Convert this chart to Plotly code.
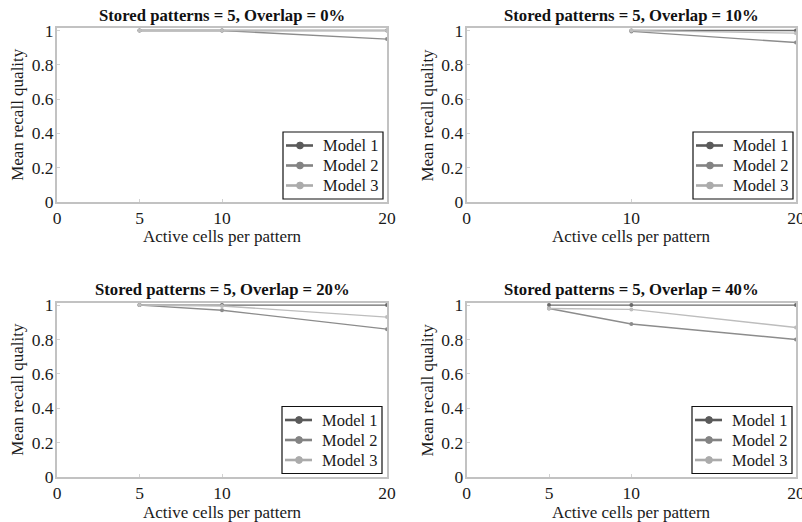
import plotly.graph_objects as go

# ---- data ----
panel_titles = ["Stored patterns = 5, Overlap = 0%", "Stored patterns = 5, Overlap = 10%",
                "Stored patterns = 5, Overlap = 20%", "Stored patterns = 5, Overlap = 40%"]
model_names = ["Model 1", "Model 2", "Model 3"]

x_p1 = [5, 10, 20]
m1_p1 = [1.0, 1.0, 1.0]
m2_p1 = [1.0, 1.0, 0.95]
m3_p1 = [1.0, 1.0, 1.0]

x_p2 = [10, 20]
m1_p2 = [1.0, 1.0]
m2_p2 = [0.995, 0.93]
m3_p2 = [1.0, 0.985]

x_p3 = [5, 10, 20]
m1_p3 = [1.0, 1.0, 1.0]
m2_p3 = [1.0, 0.97, 0.86]
m3_p3 = [1.0, 0.995, 0.93]

x_p4 = [5, 10, 20]
m1_p4 = [1.0, 1.0, 1.0]
m2_p4 = [0.98, 0.89, 0.80]
m3_p4 = [0.98, 0.975, 0.87]

xticks_p = [[0, 5, 10, 20], [0, 10, 20], [0, 5, 10, 20], [0, 5, 10, 20]]
yticks = [0, 0.2, 0.4, 0.6, 0.8, 1]
yticklabels = ["0", "0.2", "0.4", "0.6", "0.8", "1"]

panels = [
    (x_p1, [m1_p1, m2_p1, m3_p1]),
    (x_p2, [m1_p2, m2_p2, m3_p2]),
    (x_p3, [m1_p3, m2_p3, m3_p3]),
    (x_p4, [m1_p4, m2_p4, m3_p4]),
]

# ---- styling ----
W, H = 802, 522
FONT = "Liberation Serif, Times New Roman, serif"
legend_colors = ["#5a5a5a", "#838383", "#ababab"]
plot_colors = ["#6a6a6a", "#8c8c8c", "#bdbdbd"]

# pixel boxes (left, right, top, bottom)
boxes = [(57, 387, 28, 201.7), (466.7, 796, 28, 201.7),
         (57, 387, 302.5, 477), (466.7, 796, 302.5, 477)]
# legend boxes (right, bottom) in pixels
legend_pos = [(383, 199), (793, 199), (382, 473.5), (792, 473.5)]
LEG_W, LEG_H = 100, 67


def px(x):
    return x / W


def py(y):
    return 1 - y / H


fig = go.Figure()
layout = dict(width=W, height=H, margin=dict(l=0, r=0, t=0, b=0, autoexpand=False),
              paper_bgcolor="white", plot_bgcolor="white", showlegend=False,
              font=dict(family=FONT, size=16, color="#1a1a1a"))
annotations = []
shapes = []

for i, ((xs, ys), box) in enumerate(zip(panels, boxes)):
    k = i + 1
    xa = "x" if k == 1 else f"x{k}"
    ya = "y" if k == 1 else f"y{k}"
    L, R, T, B = box
    axis_common = dict(showgrid=False, zeroline=False, showline=True, linecolor="#c2c2c2",
                       linewidth=2, mirror=True, ticks="inside", ticklen=3,
                       tickcolor="#d2d2d2", automargin=False, ticklabeloverflow="allow",
                       tickfont=dict(family=FONT, size=17.5, color="#1a1a1a"))
    layout["xaxis" if k == 1 else f"xaxis{k}"] = dict(
        domain=[px(L), px(R)], anchor=ya, range=[0, 20],
        tickvals=xticks_p[i], ticktext=[str(v) for v in xticks_p[i]],
        ticklabelstandoff=-1, **axis_common)
    layout["yaxis" if k == 1 else f"yaxis{k}"] = dict(
        domain=[py(B), py(T)], anchor=xa, range=[0, 1.015],
        tickvals=yticks, ticktext=yticklabels, ticklabelstandoff=-2, **axis_common)
    for j in range(3):
        fig.add_trace(go.Scatter(
            x=xs, y=ys[j], mode="lines+markers", xaxis=xa, yaxis=ya,
            line=dict(color=plot_colors[j], width=1.4),
            marker=dict(color=plot_colors[j], size=4),
            showlegend=False, name=model_names[j]))

    # legend drawn as a framed box with sample lines, markers and labels
    lr, lb = legend_pos[i]
    ll, lt = lr - LEG_W, lb - LEG_H
    shapes.append(dict(type="rect", xref="paper", yref="paper",
                       x0=px(ll), x1=px(lr), y0=py(lb), y1=py(lt),
                       line=dict(color="#111111", width=1.2), fillcolor="white", layer="above"))
    for j in range(3):
        ry = lt + 13.5 + 20 * j
        shapes.append(dict(type="line", xref="paper", yref="paper",
                           x0=px(ll + 3), x1=px(ll + 30), y0=py(ry), y1=py(ry),
                           line=dict(color=legend_colors[j], width=2.6), layer="above"))
        r = 3.4
        cxm = ll + 17
        shapes.append(dict(type="circle", xref="paper", yref="paper",
                           x0=px(cxm - r), x1=px(cxm + r), y0=py(ry + r), y1=py(ry - r),
                           line=dict(color=legend_colors[j], width=1),
                           fillcolor=legend_colors[j], layer="above"))
        annotations.append(dict(text=model_names[j], x=px(ll + 38), y=py(ry),
                                xref="paper", yref="paper", showarrow=False,
                                xanchor="left", yanchor="middle",
                                font=dict(family=FONT, size=16.5, color="#1a1a1a")))

    cx = (L + R) / 2
    annotations.append(dict(text="<b>" + panel_titles[i] + "</b>", x=px(cx), y=py(T - 13),
                            xref="paper", yref="paper", showarrow=False,
                            xanchor="center", yanchor="middle",
                            font=dict(family=FONT, size=16.7, color="#111111")))
    annotations.append(dict(text="Active cells per pattern", x=px(cx), y=py(B + 35),
                            xref="paper", yref="paper", showarrow=False,
                            xanchor="center", yanchor="middle",
                            font=dict(family=FONT, size=17, color="#1a1a1a")))
    annotations.append(dict(text="Mean recall quality", x=px(L - 39), y=py((T + B) / 2),
                            xref="paper", yref="paper", showarrow=False, textangle=-90,
                            xanchor="center", yanchor="middle",
                            font=dict(family=FONT, size=17, color="#1a1a1a")))

layout["annotations"] = annotations
layout["shapes"] = shapes
fig.update_layout(**layout)
fig.write_html("out.html", config={"displayModeBar": False, "staticPlot": True},
               post_script="document.body.style.margin='0';document.body.style.overflow='hidden';")
